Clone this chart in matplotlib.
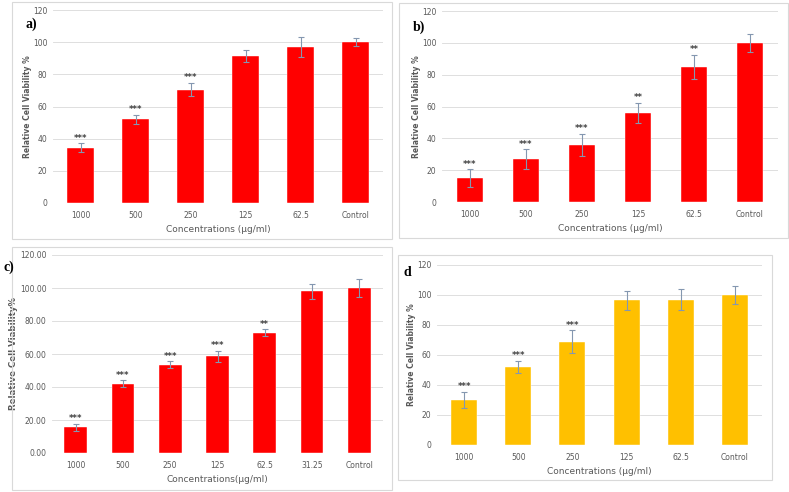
import numpy as np
import matplotlib.pyplot as plt
from matplotlib.patches import Rectangle

# DATA
conc_a = ["1000", "500", "250", "125", "62.5", "Control"]
via_a = [34.5, 52, 70.5, 91.5, 97, 100]
err_a = [2.5, 3, 4, 3.8, 6, 2.3]
star_a = ["***", "***", "***", "", "", ""]

conc_b = ["1000", "500", "250", "125", "62.5", "Control"]
via_b = [15, 27, 36, 56, 85, 100]
err_b = [5.5, 6, 7, 6.5, 7.5, 5.7]
star_b = ["***", "***", "***", "**", "**", ""]

conc_c = ["1000", "500", "250", "125", "62.5", "31.25", "Control"]
via_c = [15.5, 42, 53.5, 58.5, 73, 98, 100]
err_c = [2.2, 2, 2, 3.5, 2, 4.5, 5.2]
star_c = ["***", "***", "***", "***", "**", "", ""]

conc_d = ["1000", "500", "250", "125", "62.5", "Control"]
via_d = [30, 52, 69, 96.5, 97, 100]
err_d = [5.5, 4, 7.5, 6.5, 7, 6]
star_d = ["***", "***", "***", "", "", ""]

W, H = 789, 492
fig = plt.figure(figsize=(W / 100, H / 100), dpi=100)

TICK_COL = "#595959"
ERR_COL = "#8497B0"
GRID_COL = "#D9D9D9"


def px_axes(left, top, right, bottom):
    return fig.add_axes([left / W, 1 - bottom / H, (right - left) / W, (bottom - top) / H])


def frame(left, top, right, bottom):
    fig.patches.append(Rectangle((left / W, 1 - bottom / H), (right - left) / W, (bottom - top) / H,
                                 transform=fig.transFigure, fill=False, edgecolor="#D9D9D9", lw=0.8))


# draws one bar panel
def panel(ax, cats, vals, errs, stars, color, ytick_fmt, xlabel, ylabel, ysize):
    x = np.arange(len(cats))
    ax.bar(x, vals, width=0.48, color=color, edgecolor="white", linewidth=0.3, zorder=2)
    ax.errorbar(x, vals, yerr=errs, fmt="none", ecolor=ERR_COL, elinewidth=0.8, capsize=2, capthick=0.8, zorder=3)
    for i in range(len(cats)):
        if stars[i]:
            ax.annotate(stars[i], (x[i], vals[i] + errs[i]), xytext=(0, 0.5), textcoords="offset points",
                        ha="center", va="bottom", fontsize=6, color="#404040", fontweight="bold")
    ax.set_xlim(-0.5, len(cats) - 0.5)
    ax.set_ylim(0, 120)
    ax.set_yticks(np.arange(0, 121, 20))
    ax.set_yticklabels([ytick_fmt % v for v in np.arange(0, 121, 20)])
    ax.set_xticks(x)
    ax.set_xticklabels(cats)
    ax.tick_params(length=0, labelsize=5.5, labelcolor=TICK_COL)
    ax.tick_params(axis="x", pad=6)
    ax.tick_params(axis="y", pad=4)
    ax.grid(axis="y", color=GRID_COL, lw=0.6, zorder=0)
    ax.set_axisbelow(True)
    for s in ax.spines.values():
        s.set_visible(False)
    ax.set_xlabel(xlabel, fontsize=6.5, color=TICK_COL, labelpad=3)
    ax.set_ylabel(ylabel, fontsize=ysize, color=TICK_COL, fontweight="bold", labelpad=1)


frame(12, 2, 392, 239)
frame(399, 3, 788, 238)
frame(12, 247, 392, 490)
frame(398, 255, 772, 480)

ax_a = px_axes(53, 10, 383, 203)
panel(ax_a, conc_a, via_a, err_a, star_a, "#FF0000", "%d", "Concentrations (\u00b5g/ml)",
      "Relative Cell Viability %", 5.5)
ax_b = px_axes(442, 11, 778, 202)
panel(ax_b, conc_b, via_b, err_b, star_b, "#FF0000", "%d", "Concentrations (\u00b5g/ml)",
      "Relative Cell Viability %", 5.5)
ax_c = px_axes(52, 255, 383, 453)
panel(ax_c, conc_c, via_c, err_c, star_c, "#FF0000", "%.2f", "Concentrations(\u00b5g/ml)",
      "Relative Cell Viability%", 6.2)
ax_d = px_axes(437, 265, 762, 445)
panel(ax_d, conc_d, via_d, err_d, star_d, "#FFC000", "%d", "Concentrations (\u00b5g/ml)",
      "Relative Cell Viability %", 5.5)

for lab, xx, yy in [("a)", 25, 24), ("b)", 413, 27), ("c)", 3, 267), ("d", 404, 273)]:
    fig.text(xx / W, 1 - yy / H, lab, fontsize=10, fontweight="bold", family="Liberation Serif",
             va="center", ha="left", color="black")

fig.savefig("out.png", dpi=100)
